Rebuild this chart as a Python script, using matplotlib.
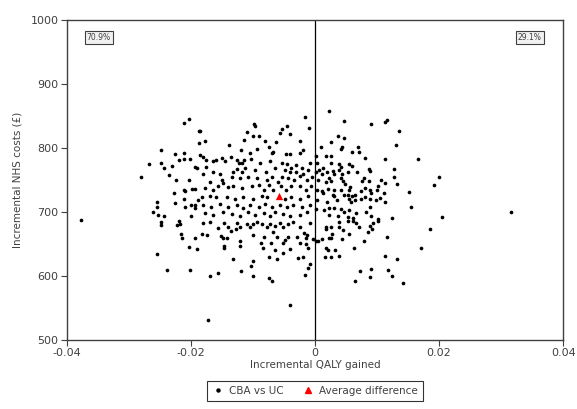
import matplotlib
matplotlib.use("Agg")
import matplotlib.pyplot as plt
from matplotlib.lines import Line2D

# incremental QALY gained, incremental NHS costs (GBP) - CBA vs UC bootstrap replicates
qaly = [
    -0.0203, -0.0211, -0.0187, -0.0187, -0.0249, -0.0211, -0.0225, -0.0211, -0.0219, -0.0202,
    -0.0267, -0.0248, -0.0244, -0.0230, -0.0194, -0.0191, -0.0236, -0.0281, -0.0224, -0.0203,
    -0.0227, -0.0212, -0.0210, -0.0198, -0.0193, -0.0211, -0.0188, -0.0255, -0.0225, -0.0200,
    -0.0193, -0.0194, -0.0209, -0.0255, -0.0262, -0.0253, -0.0244, -0.0378, -0.0200,
    -0.0249, -0.0248, -0.0220, -0.0217, -0.0223, -0.0216, -0.0215, -0.0194, -0.0203, -0.0191,
    -0.0255, -0.0238, -0.0202,
    -0.0181, -0.0169, -0.0156, -0.0147, -0.0140, -0.0136, -0.0126, -0.0121, -0.0127, -0.0110,
    -0.0105, -0.0100, -0.0094, -0.0086, -0.0078, -0.0073, -0.0065, -0.0056, -0.0051, -0.0043,
    -0.0035, -0.0025, -0.0008, -0.0182, -0.0174, -0.0152, -0.0148, -0.0142, -0.0147, -0.0147,
    -0.0121, -0.0121, -0.0100, -0.0087, -0.0083, -0.0084, -0.0071, -0.0067, -0.0061, -0.0065,
    -0.0052, -0.0048, -0.0043, -0.0040, -0.0052, -0.0029, -0.0024, -0.0018, -0.0013, -0.0015,
    -0.0015, -0.0011, -0.0004, -0.0075, -0.0061, -0.0028, -0.0020, -0.0133, -0.0100, -0.0103,
    -0.0120, -0.0008, -0.0012, -0.0156, -0.0169, -0.0100, -0.0016, -0.0074, -0.0069, -0.0041,
    -0.0173,
    0.0017, 0.0017, 0.0026, 0.0038, 0.0038, 0.0045, 0.0053, 0.0061, 0.0066, 0.0071,
    0.0088, 0.0094, 0.0101, 0.0085, 0.0092, 0.0055, 0.0027, 0.0022, 0.0026, 0.0012,
    0.0005, 0.0002, 0.0043, 0.0079, 0.0116, 0.0186, 0.0018, 0.0021, 0.0032, 0.0063,
    0.0171, 0.0016, 0.0026, 0.0039, 0.0112, 0.0132, 0.0073, 0.0090, 0.0118, 0.0065,
    0.0089, 0.0124, 0.0141,
    0.0200, 0.0316, 0.0204,
    0.0023, 0.0046, 0.0090, 0.0112, 0.0116, 0.0135, 0.0131, 0.0010, 0.0025, 0.0037,
    0.0046, 0.0042, 0.0044, 0.0059, 0.0069, 0.0071, 0.0080, 0.0112, 0.0166, 0.0002,
    0.0018, 0.0026, 0.0003, 0.0002, 0.0007, 0.0013, 0.0012, 0.0020, 0.0029, 0.0031,
    0.0026, 0.0039, 0.0042, 0.0038, 0.0044, 0.0055, 0.0060, 0.0053, 0.0068, 0.0087,
    0.0089, 0.0128, 0.0005, 0.0018, 0.0023, 0.0026, 0.0042, 0.0045, 0.0049, 0.0076,
    0.0079, 0.0087, 0.0107, 0.0112, 0.0127, 0.0132, 0.0191, 0.0003, 0.0012, 0.0013,
    0.0021, 0.0030, 0.0029, 0.0031, 0.0042, 0.0046, 0.0054, 0.0057, 0.0053, 0.0060,
    0.0055, 0.0065, 0.0074, 0.0081, 0.0088, 0.0090, 0.0101, 0.0100, 0.0111, 0.0081,
    0.0088, 0.0104, 0.0098, 0.0113, 0.0151, 0.0003, 0.0020, 0.0035, 0.0058, 0.0065,
    0.0074, 0.0002, 0.0015, 0.0022, 0.0031, 0.0042, 0.0047, 0.0055, 0.0066, 0.0082,
    0.0088, 0.0090, 0.0124, 0.0154, 0.0022, 0.0037, 0.0053, 0.0061, 0.0101,
    -0.0016, -0.0010, -0.0098, -0.0096, -0.0110, -0.0100, -0.0091, -0.0056, -0.0054, -0.0045,
    -0.0040, -0.0115, -0.0081, -0.0063, -0.0024, -0.0019, -0.0185, -0.0177, -0.0138, -0.0120,
    -0.0105, -0.0094, -0.0075, -0.0047, -0.0040, -0.0024, -0.0070, -0.0067, -0.0185, -0.0180,
    -0.0175, -0.0164, -0.0159, -0.0150, -0.0145, -0.0136, -0.0126, -0.0122, -0.0115, -0.0117,
    -0.0104, -0.0089, -0.0073, -0.0054, -0.0045, -0.0038, -0.0030, -0.0021, -0.0008, -0.0175,
    -0.0180, -0.0164, -0.0153, -0.0132, -0.0126, -0.0118, -0.0113, -0.0097, -0.0079, -0.0065,
    -0.0048, -0.0041, -0.0030, -0.0019, -0.0011, -0.0169, -0.0150, -0.0148, -0.0134, -0.0121,
    -0.0108, -0.0094, -0.0078, -0.0070, -0.0059, -0.0054, -0.0043, -0.0034, -0.0024, -0.0013,
    -0.0005, -0.0177, -0.0164, -0.0156, -0.0141, -0.0132, -0.0117, -0.0102, -0.0090, -0.0083,
    -0.0074, -0.0067, -0.0055, -0.0047, -0.0038, -0.0024, -0.0015, -0.0006, -0.0183, -0.0169,
    -0.0159, -0.0142, -0.0129, -0.0116, -0.0100, -0.0086, -0.0078, -0.0048, -0.0038, -0.0024,
    -0.0011, -0.0180, -0.0167, -0.0153, -0.0140, -0.0126, -0.0116, -0.0105, -0.0091, -0.0081,
    -0.0070, -0.0056, -0.0045, -0.0035, -0.0021, -0.0008, -0.0177, -0.0164, -0.0148, -0.0134,
    -0.0121, -0.0108, -0.0097, -0.0083, -0.0073, -0.0065, -0.0051, -0.0040, -0.0024, -0.0013,
]
costs = [
    845, 839, 827, 807, 797, 792, 790, 783, 781, 782,
    775, 777, 768, 772, 771, 768, 758, 755, 750, 750,
    730, 734, 732, 736, 736, 721, 719, 716, 714, 711,
    711, 706, 707, 707, 700, 695, 693, 688, 693,
    684, 679, 686, 681, 679, 666, 660, 660, 645, 642,
    635, 610, 610,
    683, 685, 675, 682, 677, 670, 682, 677, 673, 681,
    676, 681, 685, 681, 677, 681, 678, 683, 676, 681,
    685, 677, 683, 666, 664, 663, 660, 659, 646, 643,
    655, 646, 664, 652, 661, 643, 652, 668, 661, 641,
    651, 656, 661, 642, 636, 661, 652, 667, 664, 659,
    650, 643, 657, 630, 626, 628, 629, 626, 623, 615,
    608, 619, 612, 605, 600, 600, 601, 596, 592, 555,
    531,
    677, 674, 677, 685, 676, 672, 686, 686, 683, 677,
    678, 683, 686, 669, 673, 665, 666, 659, 659, 657,
    654, 654, 658, 655, 661, 673, 643, 641, 641, 644,
    644, 629, 630, 631, 631, 627, 608, 611, 610, 592,
    598, 600, 589,
    755, 700, 692,
    858, 842, 838, 841, 843, 827, 805, 801, 810, 819,
    815, 799, 802, 793, 802, 794, 785, 782, 782, 788,
    788, 787, 776, 763, 765, 768, 759, 763, 764, 760,
    776, 775, 771, 766, 760, 775, 772, 763, 763, 767,
    764, 767, 750, 747, 753, 749, 753, 749, 744, 749,
    753, 749, 750, 746, 754, 743, 742, 734, 732, 729,
    736, 734, 727, 725, 734, 726, 734, 739, 727, 725,
    721, 727, 732, 738, 734, 729, 740, 735, 730, 723,
    721, 722, 719, 716, 731, 719, 716, 719, 716, 718,
    720, 704, 703, 706, 706, 704, 700, 703, 698, 700,
    708, 694, 690, 708, 695, 693, 692, 690, 689,
    848, 832, 838, 834, 825, 819, 819, 824, 829, 834,
    822, 812, 811, 809, 811, 797, 827, 811, 804, 797,
    792, 798, 802, 791, 790, 792, 792, 793, 789, 786,
    781, 779, 781, 784, 780, 786, 781, 777, 781, 776,
    782, 777, 779, 777, 775, 768, 773, 768, 776, 770,
    760, 763, 760, 763, 767, 763, 768, 766, 763, 768,
    766, 763, 763, 759, 766, 747, 750, 745, 755, 753,
    755, 753, 750, 755, 747, 755, 753, 750, 756, 750,
    755, 737, 735, 740, 739, 741, 737, 740, 742, 735,
    742, 734, 740, 734, 740, 740, 735, 741, 723, 725,
    723, 724, 721, 724, 720, 725, 723, 721, 724, 720,
    725, 711, 708, 712, 708, 711, 706, 711, 708, 712,
    707, 711, 707, 711, 707, 711, 698, 695, 700, 697,
    694, 700, 695, 698, 694, 700, 697, 693, 695, 700,
]
avg_qaly = [-0.0058]
avg_cost = [725]

share_left = "70.9%"
share_right = "29.1%"

fig = plt.figure(figsize=(5.77, 4.09), dpi=100)
ax = fig.add_axes([0.116, 0.169, 0.86, 0.782])

ax.scatter(qaly, costs, s=7, color="black", linewidths=0, zorder=3)
ax.scatter(avg_qaly, avg_cost, s=28, marker="^", color="#ff0000", linewidths=0, zorder=4)
ax.axvline(0, color="black", lw=0.9, zorder=2)

ax.set_xlim(-0.04, 0.04)
ax.set_ylim(500, 1000)
ax.set_xticks([-0.04, -0.02, 0, 0.02, 0.04])
ax.set_xticklabels(["-0.04", "-0.02", "0", "0.02", "0.04"])
ax.set_yticks([500, 600, 700, 800, 900, 1000])
for s in ax.spines.values():
    s.set_color("#404040")
    s.set_linewidth(1.0)
ax.tick_params(direction="out", length=4, width=0.8, color="#404040",
               labelsize=8, labelcolor="#404040", pad=2)

ax.set_xlabel("Incremental QALY gained", fontsize=7.5, color="#404040", labelpad=1)
ax.set_ylabel("Incremental NHS costs (\u00a3)", fontsize=7.5, color="#404040", labelpad=6)

box = dict(boxstyle="square,pad=0.25", fc="#f2f2f2", ec="#404040", lw=0.8)
ax.text(0.064, 0.946, share_left, transform=ax.transAxes, fontsize=5.5,
        color="#404040", ha="center", va="center", bbox=box)
ax.text(0.933, 0.946, share_right, transform=ax.transAxes, fontsize=5.5,
        color="#404040", ha="center", va="center", bbox=box)

handles = [
    Line2D([], [], ls="none", marker="o", ms=2.2, color="black"),
    Line2D([], [], ls="none", marker="^", ms=5, color="#ff0000"),
]
leg = fig.legend(handles, ["CBA vs UC", "Average difference"], loc="center",
                 bbox_to_anchor=(0.546, 0.044), ncol=2, fontsize=7.5, frameon=True,
                 fancybox=False, edgecolor="black", handletextpad=0.6, columnspacing=1.8,
                 borderpad=0.5, handlelength=1.0)
leg.get_frame().set_linewidth(0.8)
for t in leg.get_texts():
    t.set_color("#404040")

fig.savefig("out.png", dpi=100)
